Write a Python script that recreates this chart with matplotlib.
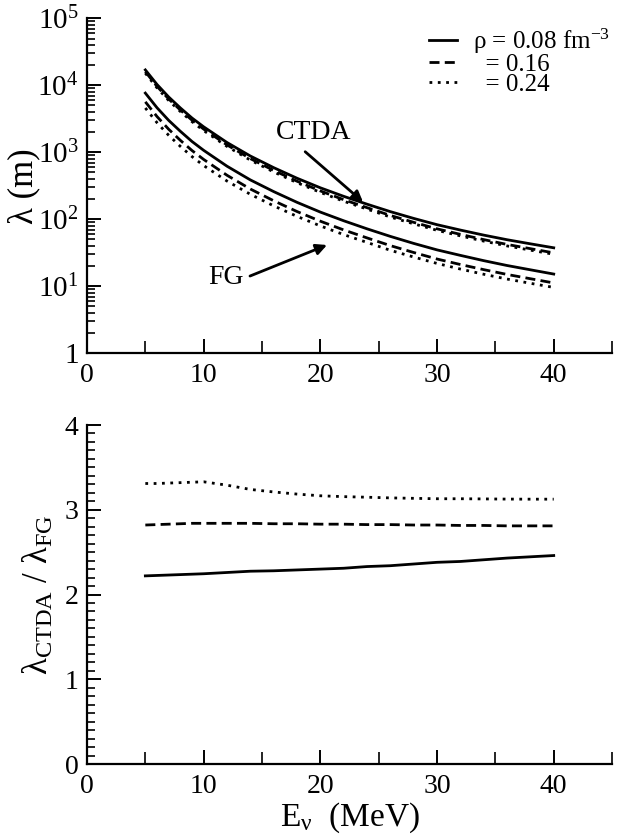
import math
import matplotlib
matplotlib.use("Agg")
import matplotlib.pyplot as plt
from matplotlib.ticker import MultipleLocator, FuncFormatter, LogLocator, NullFormatter

plt.rcParams['font.family'] = ['Liberation Serif', 'DejaVu Serif']
plt.rcParams['mathtext.fontset'] = 'custom'
plt.rcParams['mathtext.rm'] = 'Liberation Serif'
plt.rcParams['mathtext.it'] = 'Liberation Serif:italic'
plt.rcParams['mathtext.bf'] = 'Liberation Serif:bold'

# ---- data ----
energy = [5, 6, 7, 8, 9, 10, 12, 14, 16, 18, 20, 22, 24, 26, 28, 30, 32, 34, 36, 38, 40]

ctda_008 = [17000, 10300, 6700, 4600, 3250, 2400, 1400, 880, 590, 410, 295, 220, 168, 130,
            103, 83, 69, 58, 49.5, 43, 37.5]
ctda_016 = [16000, 9650, 6260, 4280, 3020, 2220, 1290, 805, 536, 370, 265, 196, 149, 114,
            90, 72, 59.5, 49.7, 42.1, 36.4, 31.5]
ctda_024 = [15200, 9170, 5950, 4070, 2870, 2110, 1225, 765, 509, 352, 252, 186, 142, 108,
            85.5, 68.4, 56.5, 47.2, 40, 34.6, 30]

fg_008 = [7660, 4630, 3000, 2060, 1450, 1070, 620, 387, 259, 179, 128, 95, 72, 55.5,
          43.6, 34.9, 28.9, 24.1, 20.4, 17.6, 15.2]
fg_016 = [5670, 3420, 2210, 1510, 1063, 782, 454, 283, 189, 130.5, 93.6, 69.3, 52.7, 40.4,
          31.9, 25.5, 21.1, 17.7, 15.0, 12.95, 11.2]
fg_024 = [4590, 2770, 1795, 1226, 863, 634, 372, 236, 158.6, 110.5, 79.6, 59, 45.1, 34.4,
          27.3, 21.9, 18.05, 15.1, 12.8, 11.07, 9.6]

ratio_008 = [2.22, 2.225, 2.23, 2.235, 2.24, 2.245, 2.26, 2.275, 2.28, 2.29, 2.30, 2.31,
             2.33, 2.34, 2.36, 2.38, 2.39, 2.41, 2.43, 2.445, 2.46]
ratio_016 = [2.82, 2.825, 2.83, 2.835, 2.84, 2.84, 2.84, 2.84, 2.835, 2.835, 2.83, 2.83,
             2.825, 2.825, 2.82, 2.82, 2.815, 2.815, 2.81, 2.81, 2.81]
ratio_024 = [3.31, 3.31, 3.315, 3.32, 3.325, 3.33, 3.29, 3.24, 3.21, 3.185, 3.165, 3.155,
             3.148, 3.14, 3.135, 3.13, 3.13, 3.128, 3.126, 3.125, 3.125]

legend_labels = ['ρ = 0.08 fm$^{-3}$', '  = 0.16', '  = 0.24']

# ---- figure ----
fig = plt.figure(figsize=(6.17, 8.35), dpi=100)
ax1 = fig.add_axes([0.141, 0.577, 0.851, 0.401])
ax2 = fig.add_axes([0.141, 0.085, 0.851, 0.406])

lw = 2.0
styles = [dict(ls='-', lw=lw), dict(ls=(0, (3.6, 1.9)), lw=lw), dict(ls=(0, (1, 2.0)), lw=lw)]

for ys, st, lab in zip([ctda_008, ctda_016, ctda_024], styles, legend_labels):
    ax1.plot(energy, ys, color='k', label=lab, **st)
for ys, st in zip([fg_008, fg_016, fg_024], styles):
    ax1.plot(energy, ys, color='k', **st)

ax1.set_yscale('log')
ax1.set_xlim(0, 45)
ax1.set_ylim(1, 1e5)


def logfmt(v, pos):
    n = int(round(math.log10(v)))
    if n == 0:
        return '1'
    return r'$\mathdefault{10^{%d}}$' % n


ax1.yaxis.set_major_locator(LogLocator(base=10, numticks=10))
ax1.yaxis.set_major_formatter(FuncFormatter(logfmt))
ax1.yaxis.set_minor_locator(LogLocator(base=10, subs=range(2, 10), numticks=20))
ax1.yaxis.set_minor_formatter(NullFormatter())

for ys, st in zip([ratio_008, ratio_016, ratio_024], styles):
    ax2.plot(energy, ys, color='k', **st)
ax2.set_xlim(0, 45)
ax2.set_ylim(0, 4)
ax2.yaxis.set_major_locator(MultipleLocator(1))
ax2.yaxis.set_minor_locator(MultipleLocator(0.1))

for ax in (ax1, ax2):
    ax.xaxis.set_major_locator(MultipleLocator(10))
    ax.xaxis.set_minor_locator(MultipleLocator(5))
    for s in ('top', 'right'):
        ax.spines[s].set_visible(False)
    for s in ('left', 'bottom'):
        ax.spines[s].set_linewidth(1.6)
    ax.tick_params(which='major', direction='in', length=10, width=1.4)
    ax.tick_params(which='minor', direction='in', length=6, width=1.2)
    ax.tick_params(axis='x', which='minor', length=9)
    ax.tick_params(axis='x', which='major', labelsize=20, pad=7)
    ax.tick_params(axis='y', which='major', labelsize=20, pad=6)

ax1.tick_params(axis='y', which='major', labelsize=21)

ax1.set_ylabel('λ (m)', fontsize=25)
ax1.yaxis.set_label_coords(-0.088, 0.5)
ax2.set_ylabel(r'λ$_{\mathrm{CTDA}}$ / λ$_{\mathrm{FG}}$', fontsize=25)
ax2.yaxis.set_label_coords(-0.06, 0.5)
ax2.set_xlabel('E$_{\\mathrm{ν}}$  (MeV)', fontsize=24, labelpad=1)

leg = ax1.legend(loc='upper left', bbox_to_anchor=(0.652, 0.975), frameon=False,
                 fontsize=18, handlelength=1.1, handletextpad=0.65, labelspacing=-0.1,
                 borderaxespad=0, borderpad=0)

ax1.text(19.4, 2000, 'CTDA', fontsize=20, ha='center', va='center')
ax1.annotate('', xy=(23.66, 181), xytext=(18.7, 1020),
             arrowprops=dict(arrowstyle='-|>', color='k', lw=2, mutation_scale=16,
                             shrinkA=0, shrinkB=0))
ax1.text(11.9, 13.3, 'FG', fontsize=20, ha='center', va='center')
ax1.annotate('', xy=(20.57, 41.3), xytext=(13.97, 14.2),
             arrowprops=dict(arrowstyle='-|>', color='k', lw=2, mutation_scale=16,
                             shrinkA=0, shrinkB=0))

fig.savefig('out.png', dpi=100)
